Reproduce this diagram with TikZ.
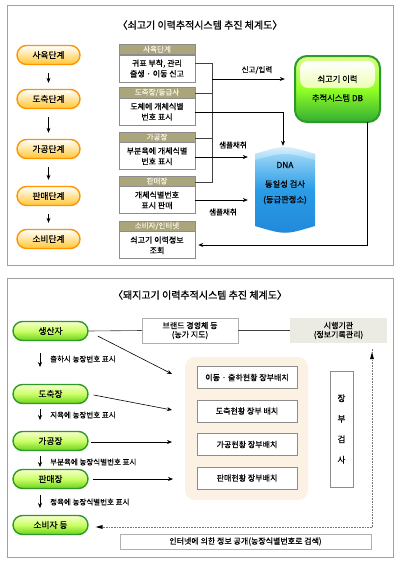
\documentclass[tikz,border=0pt]{standalone}
\usepackage{fontspec}
\setmainfont{Noto Sans CJK KR}[FakeBold=0.4]
\newfontfamily\titlefont{Noto Sans CJK KR}[FakeBold=1.0]
\usetikzlibrary{arrows.meta,shapes.misc}
\definecolor{khaki}{HTML}{ABA57C}
\definecolor{khtext}{HTML}{F2F0E2}
\definecolor{bord}{HTML}{8C8C8C}
\definecolor{panelb}{HTML}{A0A0A0}
\definecolor{beige}{HTML}{FBF2E4}
\definecolor{sgray}{HTML}{ECEBE3}
\definecolor{gborder}{HTML}{2E9A2A}
\definecolor{dnatop}{HTML}{B4E2FA}
\definecolor{dnamid}{HTML}{2A9CE6}
\definecolor{dnabot}{HTML}{2288DA}
\tikzset{
  arr/.style={-{Stealth[length=5pt,width=4pt]},line width=0.6pt},
  conn/.style={line width=0.6pt,draw=black!75},
  opill/.style={rounded rectangle,minimum width=63pt,minimum height=19pt,inner sep=0pt,
     top color=white,bottom color=orange!55!yellow!80,draw=orange!85!yellow,line width=1.4pt,font=\fontsize{8.7}{9}\selectfont},
  gpill/.style={rounded rectangle,minimum width=75pt,minimum height=19pt,inner sep=0pt,
     top color=green!12!yellow!20,bottom color=green!55!yellow!80!black!90,middle color=green!35!yellow!60,draw=gborder,line width=1.4pt,font=\fontsize{8.7}{9}\selectfont},
  hdr/.style={fill=khaki,draw=bord,line width=0.4pt,minimum width=76pt,minimum height=10.5pt,inner sep=0pt,text=khtext,font=\fontsize{7.5}{8}\selectfont},
  bdy/.style={fill=white,draw=bord,line width=0.5pt,minimum width=76pt,minimum height=27pt,inner sep=0pt,align=center,font=\fontsize{8}{10.5}\selectfont},
  ibox/.style={fill=white,draw=bord,line width=0.5pt,minimum width=100pt,minimum height=22pt,inner sep=0pt,font=\fontsize{8}{9}\selectfont},
  lbl/.style={font=\fontsize{7.5}{8}\selectfont,inner sep=0pt},
  panel/.style={draw=panelb,line width=1pt,fill=white},
}
\begin{document}
\begin{tikzpicture}[x=1pt,y=-1pt]
\useasboundingbox (0,0) rectangle (400,563);
% ================= TOP PANEL =================
\draw[panel] (7,5) rectangle (393,265);
\node[font=\titlefont\fontsize{10}{10}\selectfont] (t1) at (200,25) {〈쇠고기 이력추적시스템 추진 체계도〉};
% pills
\node[opill] (s1) at (48.5,55) {사육단계};
\node[opill] (s2) at (48.5,99) {도축단계};
\node[opill] (s3) at (48.5,149) {가공단계};
\node[opill] (s4) at (48.5,196) {판매단계};
\node[opill] (s5) at (48.5,239) {소비단계};
\foreach \a/\b in {s1/s2,s2/s3,s3/s4,s4/s5}
  \draw[arr,shorten <=8pt,shorten >=6pt] (\a) -- (\b);
% boxes
\node[hdr] (h1) at (157,49.25) {사육단계};
\node[bdy,anchor=north] (b1) at (h1.south) {귀표 부착, 관리\\출생 · 이동 신고};
\node[hdr] (h2) at (157,92.5) {도축장/등급사};
\node[bdy,anchor=north] (b2) at (h2.south) {도체에 개체식별\\번호 표시};
\node[hdr] (h3) at (157,137) {가공장};
\node[bdy,anchor=north] (b3) at (h3.south) {부분육에 개체식별\\번호 표시};
\node[hdr] (h4) at (157,181) {판매장};
\node[bdy,anchor=north] (b4) at (h4.south) {개체식별번호\\표시 판매};
\node[hdr] (h5) at (157,226) {소비자/인터넷};
\node[bdy,anchor=north] (b5) at (h5.south) {쇠고기 이력정보\\조회};
% DB
\shade[top color=green!30!yellow!45,bottom color=green!60!black!80,middle color=green!50!yellow!85,draw=gborder,line width=2pt,rounded corners=12pt]
  (295,56) rectangle (380,122);
\shade[top color=white,bottom color=green!25!yellow!30,rounded corners=8pt] (300,61) rectangle (375,88);
\draw[white,line width=1pt] (302,68) .. controls (337,60) .. (373,68);
\node[inner sep=0pt,minimum width=85pt,minimum height=66pt] (db) at (337.5,89) {};
\node[font=\fontsize{8.3}{9}\selectfont] (dbt1) at (337.5,79) {쇠고기 이력};
\node[font=\fontsize{8.3}{9}\selectfont] (dbt2) at (337.5,98) {추적시스템 DB};
% DNA
\shade[top color=dnatop,bottom color=dnabot,middle color=dnamid]
  (255,154) .. controls (285,145) .. (315,154) -- (315,226) .. controls (285,235) .. (255,226) -- cycle;
\shade[top color=white,bottom color=dnatop,opacity=0.6] (255,154) .. controls (285,145) .. (315,154) -- (315,160) .. controls (285,152) .. (255,160) -- cycle;
\node[inner sep=0pt,minimum width=60pt,minimum height=82pt] (dna) at (285,190) {};
\node[font=\fontsize{8.3}{9}\selectfont] (d1) at (285,165) {DNA};
\node[font=\fontsize{8.3}{9}\selectfont] (d2) at (285,184) {동일성 검사};
\node[font=\fontsize{8.3}{9}\selectfont] (d3) at (285,200) {(등급판정소)};
% connectors top
\coordinate (j1) at (212,63);
\coordinate (j2) at (212,93);
\coordinate (j3) at (212,138);
\coordinate (j4) at (212,182);
\coordinate (jdb) at (212,79);
\draw[conn] (j1 -| b1.east) -- (j1) -- (j4) -- (j4 -| b4.east);
\draw[conn] (j2 -| h2.east) -- (j2);
\draw[conn] (j3 -| h3.east) -- (j3);
\draw[arr] (jdb) -- ([xshift=-10pt]jdb -| db.west);
\node[lbl] (l1) at (257,70) {신고/입력};
\coordinate (k2) at (283,112);
\draw[arr] (k2 -| b2.east) -- (k2) -- ([yshift=3pt]dna.north -| k2);
\coordinate (k3) at (195,157);
\draw[arr] (k3) -- ([xshift=-7pt]k3 -| dna.west);
\coordinate (k4) at (195,200);
\draw[arr] (k4) -- ([xshift=-7pt]k4 -| dna.west);
\node[lbl] (l2) at (233,145) {샘플채취};
\node[lbl] (l3) at (223,212) {샘플채취};
\coordinate (k5) at (367,245);
\draw[arr] (db.south -| k5) -- (k5) -- ([xshift=3pt]k5 -| b5.east);
% ================= BOTTOM PANEL =================
\draw[panel] (7,278) rectangle (393,557);
\node[font=\titlefont\fontsize{10}{10}\selectfont] (t2) at (200,295) {〈돼지고기 이력추적시스템 추진 체계도〉};
% beige panel
\fill[beige,rounded corners=10pt] (185,357) rectangle (308,500);
\node[gpill] (p1) at (50.5,331) {생산자};
\node[gpill] (p2) at (50.5,394) {도축장};
\node[gpill] (p3) at (50.5,441) {가공장};
\node[gpill] (p4) at (50.5,479) {판매장};
\node[gpill] (p5) at (50.5,525) {소비자 등};
% down arrows & labels
\coordinate (a1s) at (40,353); \coordinate (a1e) at (40,367);
\coordinate (a2s) at (40,409); \coordinate (a2e) at (40,420);
\coordinate (a3s) at (40,456); \coordinate (a3e) at (40,467);
\coordinate (a4s) at (40,495); \coordinate (a4e) at (40,508);
\draw[arr] (a1s) -- (a1e);
\draw[arr] (a2s) -- (a2e);
\draw[arr] (a3s) -- (a3e);
\draw[arr] (a4s) -- (a4e);
\node[lbl,anchor=west] (n1) at (50,359) {출하시 농장번호 표시};
\node[lbl,anchor=west] (n2) at (50,415) {지육에 농장번호 표시};
\node[lbl,anchor=west] (n3) at (50,462) {부분육에 농장식별번호 표시};
\node[lbl,anchor=west] (n4) at (50,502) {정육에 농장식별번호 표시};
% brand & agency
\node[draw=bord!70,line width=0.5pt,fill=white,minimum width=96pt,minimum height=25pt,inner sep=0pt,align=center,font=\fontsize{8}{9}\selectfont] (brand) at (190,330.5) {브랜드 경영체 등\\(농가 지도)};
\node[fill=sgray,minimum width=97pt,minimum height=25pt,inner sep=0pt,align=center,font=\fontsize{8}{9}\selectfont] (agency) at (338.5,330.5) {시행기관\\(정보기록관리)};
\draw[conn] (p1.east) -- (brand.west);
\draw[conn] (brand.east) -- (agency.west);
% inner boxes
\node[ibox] (i1) at (247,377.5) {이동 · 출하현황 장부배치};
\node[ibox] (i2) at (247,411) {도축현황 장부 배치};
\node[ibox] (i3) at (247,444.5) {가공현황 장부배치};
\node[ibox] (i4) at (247,478) {판매현황 장부배치};
\node[fill=white,draw=bord,line width=0.5pt,minimum width=23pt,minimum height=116pt,inner sep=0pt,align=center,font=\fontsize{8.5}{20.5}\selectfont] (insp) at (341.5,429) {장\\부\\검\\사};
% arrows to panel
\coordinate (e1) at (172,374);
\coordinate (e2) at (172,410);
\coordinate (e3) at (172,442);
\coordinate (e4) at (173,479);
\draw[arr] ([xshift=9pt,yshift=-5pt]p1.east) -- (e1);
\draw[arr] ([xshift=5pt,yshift=-1pt]p2.east) -- (e2);
\draw[arr] ([xshift=2pt,yshift=-1pt]p3.east) -- (e3);
\draw[arr] ([xshift=4pt]p4.east) -- (e4);
% dotted feedback
\coordinate (c) at (372,527);
\draw[densely dotted,black!55,line width=0.6pt] (c) -- ([yshift=-6pt]c |- agency.south);
\draw[densely dotted,black!55,line width=0.6pt] (c) -- ([xshift=9pt]c -| p5.east);
\fill[black] ([yshift=-9pt]c |- agency.south) -- ++(-2,7) -- ++(4,0) -- cycle;
\fill[black] ([xshift=7pt]c -| p5.east) -- ++(7,-2) -- ++(0,4) -- cycle;
\node[draw=bord!70,line width=0.5pt,fill=white,minimum width=251pt,minimum height=15pt,inner sep=0pt,font=\fontsize{8}{8.5}\selectfont] (inet) at (245.5,541.5) {인터넷에 의한 정보 공개(농장식별번호로 검색)};
\end{tikzpicture}
\end{document}
